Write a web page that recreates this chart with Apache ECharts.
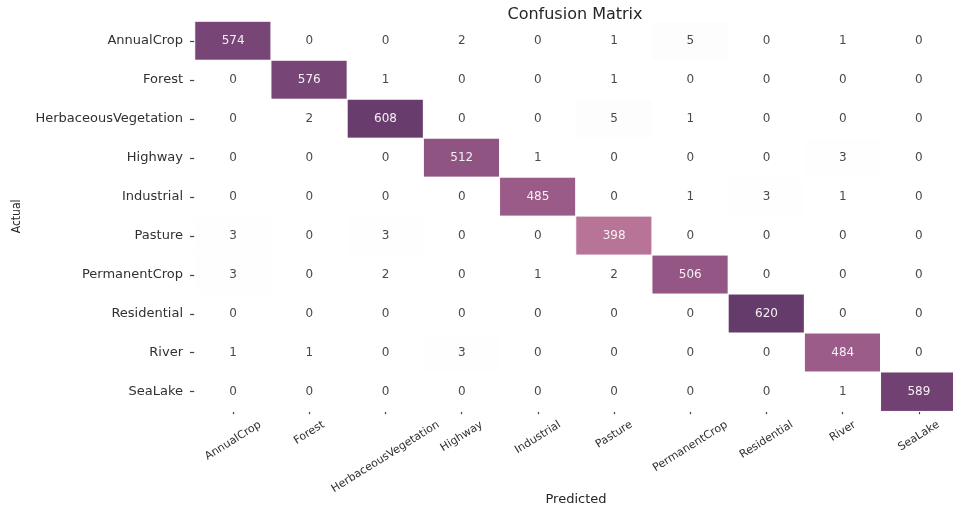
<!DOCTYPE html>
<html>
<head>
<meta charset="utf-8">
<title>Confusion Matrix</title>
<script src="https://cdn.jsdelivr.net/npm/echarts@6.0.0/dist/echarts.min.js"></script>
<style>
  html, body { margin: 0; padding: 0; background: #fff; }
  #chart { width: 953px; height: 510px; }
</style>
</head>
<body>
<div id="chart"></div>
<script>
// Class names (same order on both axes)
const classes = ['AnnualCrop', 'Forest', 'HerbaceousVegetation', 'Highway', 'Industrial',
                 'Pasture', 'PermanentCrop', 'Residential', 'River', 'SeaLake'];

// One row per actual class: counts for each predicted class
const rowAnnualCrop    = [574,   0,   0,   2,   0,   1,   5,   0,   1,   0];
const rowForest        = [  0, 576,   1,   0,   0,   1,   0,   0,   0,   0];
const rowHerbaceous    = [  0,   2, 608,   0,   0,   5,   1,   0,   0,   0];
const rowHighway       = [  0,   0,   0, 512,   1,   0,   0,   0,   3,   0];
const rowIndustrial    = [  0,   0,   0,   0, 485,   0,   1,   3,   1,   0];
const rowPasture       = [  3,   0,   3,   0,   0, 398,   0,   0,   0,   0];
const rowPermanentCrop = [  3,   0,   2,   0,   1,   2, 506,   0,   0,   0];
const rowResidential   = [  0,   0,   0,   0,   0,   0,   0, 620,   0,   0];
const rowRiver         = [  1,   1,   0,   3,   0,   0,   0,   0, 484,   0];
const rowSeaLake       = [  0,   0,   0,   0,   0,   0,   0,   0,   1, 589];

const rows = [rowAnnualCrop, rowForest, rowHerbaceous, rowHighway, rowIndustrial,
              rowPasture, rowPermanentCrop, rowResidential, rowRiver, rowSeaLake];

// Cubehelix colour ramp (start 0, rotation 0.4, hue 0.8), light end at 1, dark end at 0.3
function cubehelix(x) {
  const s = 0, r = 0.4, hue = 0.8;
  const a = hue * x * (1 - x) / 2;
  const phi = 2 * Math.PI * (s / 3 + r * x);
  const c = Math.cos(phi), sn = Math.sin(phi);
  const clip = v => Math.max(0, Math.min(1, v));
  return [
    clip(x + a * (-0.14861 * c + 1.78277 * sn)),
    clip(x + a * (-0.29227 * c - 0.90649 * sn)),
    clip(x + a * (1.97294 * c))
  ];
}
const LIGHT = 1.0, DARK = 0.3, LEVELS = 256;
// 256-entry lookup, like a listed colormap
function rampAt(t) {
  const idx = Math.min(LEVELS - 1, Math.floor(t * LEVELS));
  return cubehelix(LIGHT - (LIGHT - DARK) * idx / (LEVELS - 1));
}
function toHex(rgb) {
  return '#' + rgb.map(v => Math.round(v * 255).toString(16).padStart(2, '0')).join('');
}
function luminance(rgb) {
  const lin = rgb.map(v => v <= 0.03928 ? v / 12.92 : Math.pow((v + 0.055) / 1.055, 2.4));
  return 0.2126 * lin[0] + 0.7152 * lin[1] + 0.0722 * lin[2];
}

const vmax = Math.max(...rows.flat());

// Heatmap cells: [predicted index, actual index, count], coloured from the count
const cells = [];
rows.forEach((row, yi) => {
  row.forEach((v, xi) => {
    const rgb = rampAt(v / vmax);
    const dark = luminance(rgb) < 0.408;
    cells.push({
      value: [xi, yi, v],
      itemStyle: { color: toHex(rgb) },
      label: { color: dark ? '#f4f0f4' : '#4a4a4a' }
    });
  });
});

// Rotated x labels are centred under their tick (rich padding shifts each one)
const FONT = '"DejaVu Sans", sans-serif';
const X_FONT_SIZE = 11, X_ROT = 32, X_GLYPH_H = 9;
const measure = document.createElement('canvas').getContext('2d');
measure.font = X_FONT_SIZE + 'px "DejaVu Sans"';
const th = X_ROT * Math.PI / 180;
const richX = {};
classes.forEach((name, i) => {
  const L = measure.measureText(name).width;
  const d = (L * Math.sin(th) + X_GLYPH_H * Math.cos(th)) / 2;
  richX['x' + i] = {
    fontSize: X_FONT_SIZE, fontFamily: FONT, color: '#303030',
    padding: [2 * d * Math.cos(th), 2 * d * Math.sin(th), 0, 0]
  };
});

const chart = echarts.init(document.getElementById('chart'), null, { renderer: 'canvas' });
chart.setOption({
  animation: false,
  backgroundColor: '#ffffff',
  title: {
    text: 'Confusion Matrix',
    left: 570, top: 2, textAlign: 'center',
    textStyle: { fontFamily: FONT, fontSize: 16, fontWeight: 'normal', color: '#262626' }
  },
  grid: { left: 195, top: 21.5, width: 762, height: 389.7, outerBoundsMode: 'none', containLabel: false },
  xAxis: {
    type: 'category', data: classes, position: 'bottom',
    axisLine: { show: false },
    axisTick: { show: true, alignWithLabel: true, length: 3, lineStyle: { color: '#444', width: 1.2 } },
    axisLabel: {
      interval: 0, rotate: X_ROT, align: 'center', verticalAlign: 'middle', margin: 8.8,
      formatter: (v, i) => '{x' + i + '|' + v + '}',
      rich: richX
    },
    splitLine: { show: false }, splitArea: { show: false },
    name: 'Predicted', nameLocation: 'middle', nameGap: 82, nameMoveOverlap: false,
    nameTextStyle: { fontFamily: FONT, fontSize: 13, color: '#262626' }
  },
  yAxis: {
    type: 'category', data: classes, inverse: true,
    axisLine: { show: false },
    axisTick: { show: true, alignWithLabel: true, length: 5, lineStyle: { color: '#444', width: 1.2 } },
    axisLabel: { interval: 0, margin: 12, fontFamily: FONT, fontSize: 13, color: '#303030' },
    splitLine: { show: false }, splitArea: { show: false },
    name: 'Actual', nameLocation: 'middle', nameGap: 172, nameRotate: 90, nameMoveOverlap: false,
    nameTextStyle: { fontFamily: '"DejaVu Sans Condensed", "Liberation Sans Narrow", ' + FONT, fontSize: 12, color: '#262626' }
  },
  series: [{
    type: 'heatmap',
    data: cells,
    itemStyle: { borderColor: '#ffffff', borderWidth: 1 },
    label: { show: true, fontFamily: FONT, fontSize: 12, formatter: p => String(p.value[2]) },
    emphasis: { disabled: true }
  }]
});
</script>
</body>
</html>
